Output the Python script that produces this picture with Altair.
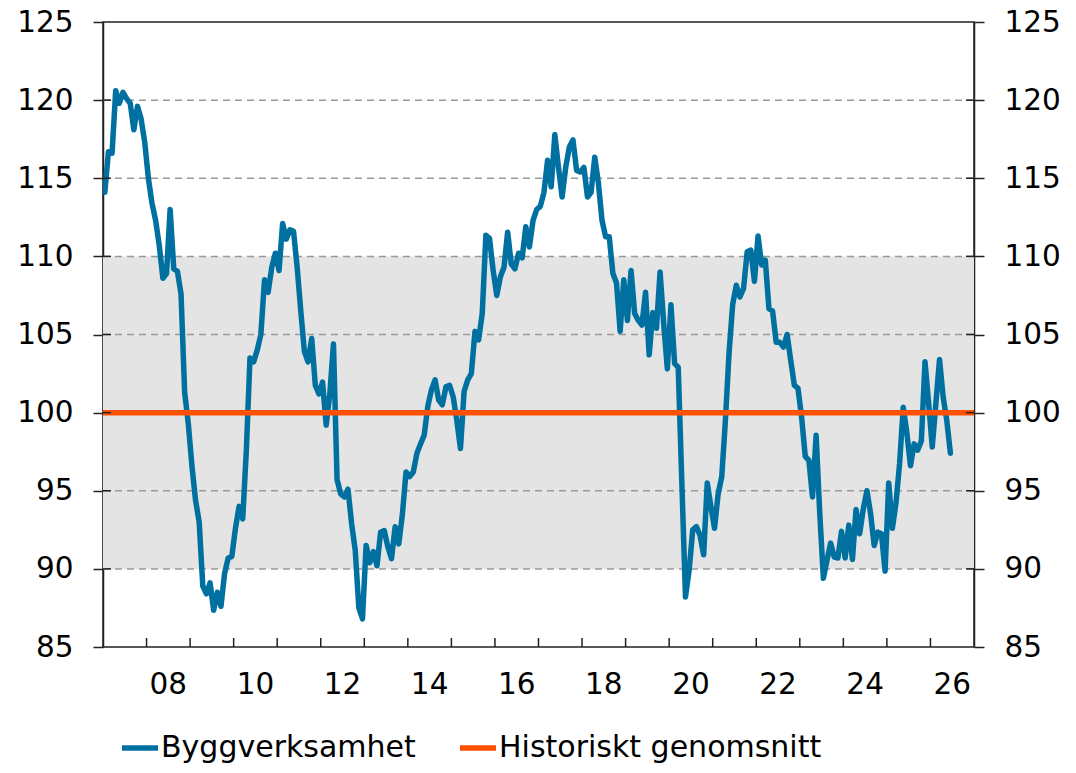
import altair as alt
import pandas as pd

# ---------------- data ----------------
start_year = 2007  # first monthly observation: Jan 2007
values = [
    # 2007
    114.1, 116.7, 116.6, 120.6, 119.8, 120.5, 120.1, 119.8, 118.1, 119.6, 118.8, 117.3,
    # 2008
    115.0, 113.4, 112.3, 110.7, 108.6, 108.9, 113.0, 109.2, 109.05, 107.6, 101.3, 99.3,
    # 2009
    96.6, 94.4, 93.0, 88.9, 88.4, 89.1, 87.35, 88.5, 87.6, 89.7, 90.7, 90.8,
    # 2010
    92.6, 94.0, 93.2, 97.6, 103.5, 103.25, 104.0, 105.0, 108.5, 107.7, 109.3, 110.2,
    # 2011
    109.1, 112.1, 111.1, 111.7, 111.6, 109.3, 106.5, 103.9, 103.25, 104.75, 101.75, 101.2,
    # 2012
    101.95, 99.2, 101.2, 104.4, 95.7, 94.8, 94.6, 95.1, 92.9, 91.2, 87.5, 86.8,
    # 2013
    91.5, 90.4, 91.1, 90.2, 92.35, 92.45, 91.4, 90.65, 92.7, 91.6, 93.5, 96.2,
    # 2014
    95.9, 96.2, 97.4, 98.0, 98.55, 100.4, 101.45, 102.1, 100.8, 100.5, 101.65, 101.75,
    # 2015
    101.0, 99.5, 97.7, 101.35, 102.1, 102.5, 105.2, 104.65, 106.35, 111.35, 111.15, 109.1,
    # 2016
    107.5, 108.7, 109.3, 111.55, 109.5, 109.2, 110.2, 109.9, 111.9, 110.6, 112.3, 113.0,
    # 2017
    113.2, 114.1, 116.15, 114.45, 117.8, 115.7, 113.8, 115.7, 117.0, 117.45, 115.5, 115.4,
    # 2018
    115.7, 113.8, 114.1, 116.35, 114.7, 112.3, 111.25, 111.25, 108.9, 108.3, 105.2, 108.5,
    # 2019
    105.9, 109.1, 106.35, 105.9, 105.6, 107.7, 103.7, 106.4, 105.4, 109.0, 105.7, 102.8,
    # 2020
    106.9, 103.15, 102.9, 95.5, 88.2, 89.9, 92.5, 92.7, 92.15, 90.9, 95.5, 94.0,
    # 2021
    92.6, 94.8, 95.9, 99.5, 103.8, 106.9, 108.15, 107.4, 107.95, 110.3, 110.4, 108.4,
    # 2022
    111.3, 109.45, 109.75, 106.65, 106.5, 104.5, 104.5, 104.2, 105.0, 103.35, 101.75, 101.55,
    # 2023
    99.7, 97.2, 96.95, 94.6, 98.55, 93.55, 89.4, 90.55, 91.65, 90.75, 90.7, 92.4,
    # 2024
    90.7, 92.8, 90.6, 93.8, 92.25, 93.85, 95.0, 93.55, 91.5, 92.35, 92.25, 89.85,
    # 2025
    95.5, 92.6, 94.2, 96.75, 100.35, 98.7, 96.6, 98.0, 97.6, 98.2, 103.25, 100.6,
    # 2026
    97.8, 100.6, 103.4, 101.0, 99.5, 97.4,
]
series_names = ["Byggverksamhet", "Historiskt genomsnitt"]
series_colors = ["#0070A0", "#FF5000"]
average_value = 100
band_low, band_high = 90, 110
grid_values = [90, 95, 100, 105, 110, 115, 120]
y_ticks = [85, 90, 95, 100, 105, 110, 115, 120, 125]
y_domain = [85, 125]
x_domain = [2007, 2027]
x_ticks = list(range(2007, 2028))
x_label_years = [2008, 2010, 2012, 2014, 2016, 2018, 2020, 2022, 2024, 2026]
x_label_texts = ["08", "10", "12", "14", "16", "18", "20", "22", "24", "26"]

# ---------------- tables ----------------
rows = [{"t": start_year + (i + 0.5) / 12, "v": v, "s": series_names[0]}
        for i, v in enumerate(values)]
rows += [{"t": x_domain[0], "v": average_value, "s": series_names[1]},
         {"t": x_domain[1], "v": average_value, "s": series_names[1]}]
lines_df = pd.DataFrame(rows)
band_df = pd.DataFrame({"lo": [band_low], "hi": [band_high]})
grid_df = pd.DataFrame({"v": grid_values})
xtick_df = pd.DataFrame({"t": x_ticks[1:-1]})
# year labels are centred in their year
xlab_df = pd.DataFrame({"t": [y + 0.5 for y in x_label_years], "lab": x_label_texts})

W, H = 871, 625
FONT = "DejaVu Sans"
AX = "#222222"
AXFS = 29.5

xscale = alt.Scale(domain=x_domain, nice=False, zero=False)
yscale = alt.Scale(domain=y_domain, nice=False, zero=False)

x_axis = alt.Axis(values=x_ticks, labels=False, tickSize=11, title=None)
left_axis = alt.Axis(values=y_ticks, tickSize=10, labelPadding=20, title=None,
                     format="d", labelFlush=False, labelFontSize=AXFS)
right_axis = alt.Axis(orient="right", values=y_ticks, tickSize=10, labelPadding=20,
                      title=None, format="d", labelFlush=False, labelFontSize=AXFS)

band = alt.Chart(band_df).mark_rect(color="#E4E4E4").encode(
    y=alt.Y("lo:Q", scale=yscale, axis=None),
    y2="hi:Q",
    x=alt.value(0),
    x2=alt.value(W),
)

grid = alt.Chart(grid_df).mark_rule(color="#999999", strokeWidth=1.5, strokeDash=[7, 5]).encode(
    y=alt.Y("v:Q", scale=yscale, axis=right_axis),
    x=alt.value(0),
    x2=alt.value(W),
)

lines = alt.Chart(lines_df).mark_line(strokeWidth=5.5, strokeJoin="round", strokeCap="round",
                                      clip=True).encode(
    x=alt.X("t:Q", scale=xscale, axis=x_axis),
    y=alt.Y("v:Q", scale=yscale, axis=left_axis),
    color=alt.Color(
        "s:N",
        scale=alt.Scale(domain=series_names, range=series_colors),
        legend=alt.Legend(
            orient="none", legendX=16, legendY=705, direction="horizontal", title=None,
            symbolType="stroke", symbolSize=1300, symbolStrokeWidth=5.5,
            labelFontSize=30, labelFont=FONT, labelColor="black", labelOffset=0,
            columnPadding=32, labelLimit=600, padding=0,
        ),
    ),
)

xin = alt.Chart(xtick_df).mark_rule(color=AX, strokeWidth=1.5).encode(
    x=alt.X("t:Q", scale=xscale, axis=None),
    y=alt.value(H - 9),
    y2=alt.value(H),
)
yin_left = alt.Chart(grid_df).mark_rule(color=AX, strokeWidth=1.5).encode(
    y=alt.Y("v:Q", scale=yscale, axis=None),
    x=alt.value(0),
    x2=alt.value(8),
)
yin_right = alt.Chart(grid_df).mark_rule(color=AX, strokeWidth=1.5).encode(
    y=alt.Y("v:Q", scale=yscale, axis=None),
    x=alt.value(W - 8),
    x2=alt.value(W),
)

xlabels = alt.Chart(xlab_df).mark_text(
    font=FONT, fontSize=AXFS, color="black", align="center", baseline="middle"
).encode(
    x=alt.X("t:Q", scale=xscale, axis=None),
    y=alt.value(H + 38),
    text="lab:N",
)

chart = alt.layer(band, grid, lines, xin, yin_left, yin_right, xlabels).resolve_scale(
    y="independent"
).properties(
    width=W,
    height=H,
    autosize=alt.AutoSizeParams(type="none"),
    padding={"left": 95, "top": 14, "right": 94, "bottom": 118},
).configure_axis(
    domainColor=AX, tickColor=AX, domainWidth=1.5, tickWidth=1.5,
    labelFont=FONT, labelFontSize=AXFS, labelColor="black", grid=False,
).configure_view(
    stroke=AX, strokeWidth=1.5,
)

chart.save("out.html", embed_options={"renderer": "svg", "actions": False})
